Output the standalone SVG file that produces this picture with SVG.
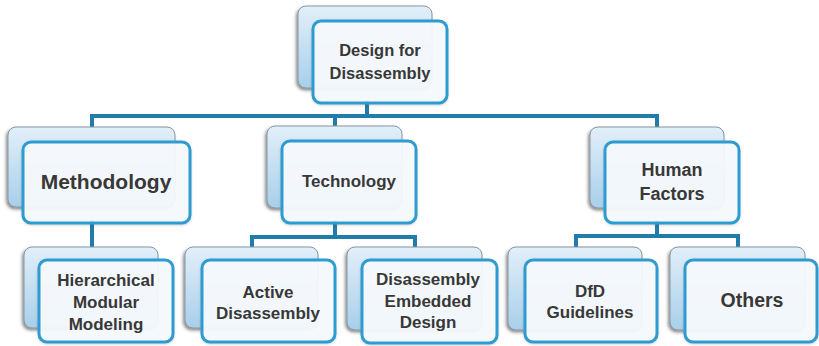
<svg xmlns="http://www.w3.org/2000/svg" width="819" height="346" viewBox="0 0 819 346">
  <defs>
    <linearGradient id="backGrad" x1="0" y1="0" x2="0" y2="1">
      <stop offset="0" stop-color="#e2eff9"/>
      <stop offset="1" stop-color="#a8cfea"/>
    </linearGradient>
    <filter id="shadow" x="-10%" y="-10%" width="120%" height="125%">
      <feDropShadow dx="-1.5" dy="2" stdDeviation="1.5" flood-color="#333" flood-opacity="0.55"/>
    </filter>
    <filter id="shadow2" x="-10%" y="-10%" width="120%" height="125%">
      <feDropShadow dx="0" dy="1" stdDeviation="1" flood-color="#555" flood-opacity="0.25"/>
    </filter>
  </defs>
  <style>
    .back { fill: url(#backGrad); stroke: #8896a2; stroke-width: 1; filter: url(#shadow); }
    .front { fill: #f7fbfe; fill-opacity: 0.93; stroke: #2f9bd1; stroke-width: 3; filter: url(#shadow2); }
    .conn { fill: none; stroke: #1f7cab; stroke-width: 4; stroke-linejoin: miter; stroke-linecap: butt; }
    text { font-family: "Liberation Sans", Arial, sans-serif; font-weight: bold; fill: #383838; text-anchor: middle; }
    .t16 { font-size: 16.5px; }
    .t17 { font-size: 17px; }
    .t18 { font-size: 18px; }
    .t19 { font-size: 19.5px; }
    .t21 { font-size: 21px; }
  </style>

  <rect width="819" height="346" fill="#ffffff"/>

  <g id="connectors">
    <path class="conn" d="M367 100 V116"/>
    <path class="conn" d="M92 128 V116 H657 V128"/>
    <path class="conn" d="M335 116 V128"/>
    <path class="conn" d="M92 220 V248"/>
    <path class="conn" d="M335 220 V237"/>
    <path class="conn" d="M252 248 V237 H415 V248"/>
    <path class="conn" d="M657 220 V236"/>
    <path class="conn" d="M576 248 V236 H738 V248"/>
  </g>

  <g id="node-design-for-disassembly">
    <rect class="back" x="298" y="6" width="134" height="82" rx="8"/>
    <rect class="front" x="313" y="21" width="134" height="82" rx="8"/>
    <text class="t16" x="380" y="56">Design for</text>
    <text class="t16" x="380" y="79">Disassembly</text>
  </g>

  <g id="node-methodology">
    <rect class="back" x="8" y="127" width="167" height="80" rx="8"/>
    <rect class="front" x="23" y="142" width="167" height="81" rx="8"/>
    <text class="t21" x="106" y="189">Methodology</text>
  </g>

  <g id="node-technology">
    <rect class="back" x="267" y="126" width="135" height="82" rx="8"/>
    <rect class="front" x="282" y="141" width="134" height="82" rx="8"/>
    <text class="t17" x="349" y="187">Technology</text>
  </g>

  <g id="node-human-factors">
    <rect class="back" x="590" y="127" width="134" height="81" rx="8"/>
    <rect class="front" x="605" y="142" width="134" height="81" rx="8"/>
    <text class="t18" x="672" y="176">Human</text>
    <text class="t18" x="672" y="200">Factors</text>
  </g>

  <g id="node-hierarchical-modular-modeling">
    <rect class="back" x="24" y="247" width="134" height="81" rx="8"/>
    <rect class="front" x="39" y="260" width="134" height="82" rx="8"/>
    <text class="t17" x="106" y="286">Hierarchical</text>
    <text class="t17" x="106" y="308">Modular</text>
    <text class="t17" x="106" y="330">Modeling</text>
  </g>

  <g id="node-active-disassembly">
    <rect class="back" x="185" y="247" width="133" height="81" rx="8"/>
    <rect class="front" x="202" y="260" width="133" height="82" rx="8"/>
    <text class="t17" x="268" y="298">Active</text>
    <text class="t17" x="268" y="319">Disassembly</text>
  </g>

  <g id="node-disassembly-embedded-design">
    <rect class="back" x="347" y="247" width="135" height="83" rx="8"/>
    <rect class="front" x="362" y="260" width="135" height="83" rx="8"/>
    <text class="t17" x="428" y="285">Disassembly</text>
    <text class="t17" x="428" y="307">Embedded</text>
    <text class="t17" x="428" y="328">Design</text>
  </g>

  <g id="node-dfd-guidelines">
    <rect class="back" x="508" y="247" width="134" height="83" rx="8"/>
    <rect class="front" x="525" y="260" width="132" height="82" rx="8"/>
    <text class="t17" x="590" y="297">DfD</text>
    <text class="t17" x="590" y="318">Guidelines</text>
  </g>

  <g id="node-others">
    <rect class="back" x="670" y="247" width="135" height="83" rx="8"/>
    <rect class="front" x="685" y="260" width="132" height="82" rx="8"/>
    <text class="t19" x="752" y="307">Others</text>
  </g>
</svg>
